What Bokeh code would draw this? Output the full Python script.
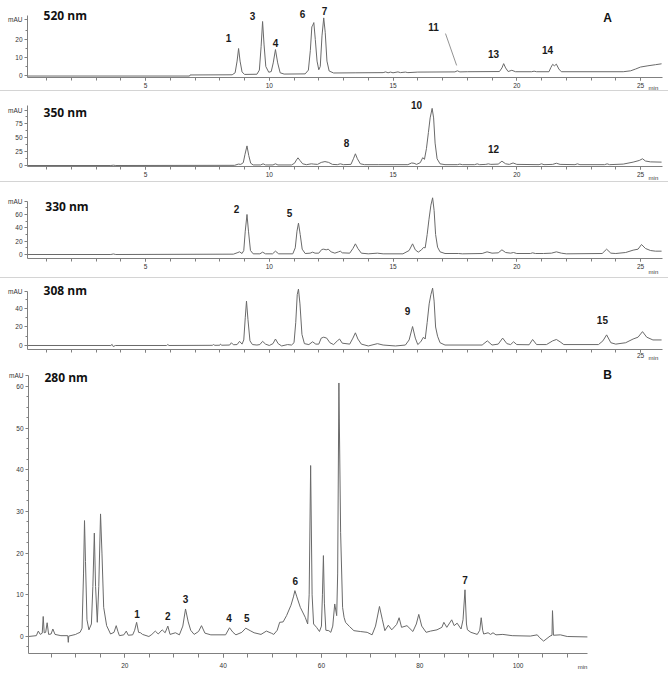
from bokeh.plotting import figure
from bokeh.layouts import column
from bokeh.models import Range1d, FixedTicker, Label, LabelSet, ColumnDataSource, Div
from bokeh.core.properties import value
from bokeh.embed import file_html
from bokeh.resources import INLINE

# ---------------- data (retention time in min, absorbance in mAU) ----------------
t520 = [0.23, 6.78, 6.8, 8.5, 8.62, 8.7, 8.76, 8.82, 8.9, 9.0, 9.5, 9.6, 9.67, 9.73, 9.79, 9.86, 9.98,
        10.08, 10.16, 10.25, 10.34, 10.44, 10.6, 11.45, 11.58, 11.66, 11.72, 11.76, 11.8, 11.86, 11.93,
        12.0, 12.06, 12.13, 12.2, 12.26, 12.33, 12.42, 12.6, 13.5, 14.6, 14.7, 14.8, 14.9, 15.0, 15.2,
        15.3, 15.5, 15.6, 16.0, 17.5, 17.6, 17.7, 18.0, 19.3, 19.4, 19.47, 19.55, 19.65, 19.8, 19.95,
        20.6, 20.7, 20.8, 21.3, 21.38, 21.45, 21.52, 21.6, 21.7, 21.8, 24.3, 24.6, 24.8, 25.0, 25.3,
        25.6, 25.85]
a520 = [-0.3, -0.3, 0.3, 0.4, 1.5, 8, 15, 8, 2, 0.6, 0.7, 3, 16, 30, 17, 5, 1.8,
        2.2, 7, 14.4, 7, 1.5, 0.8, 0.9, 3, 14, 27, 28, 29.4, 20, 8,
        3.2, 5, 22, 32, 24, 8, 2.5, 1.4, 1.5, 1.6, 2.0, 1.5, 1.9, 1.5, 2.0,
        1.6, 1.9, 1.6, 1.9, 2.0, 2.6, 2.0, 2.1, 2.2, 4.2, 6.6, 4.2, 2.2, 2.9, 2.1,
        2.1, 2.4, 2.1, 2.1, 4.5, 6.2, 5.4, 6.3, 3.6, 2.1, 2.1, 2.6, 3.6, 4.7, 5.4,
        6.0, 6.5]

t350 = [0.23, 3.6, 3.7, 3.8, 8.6, 8.75, 8.85, 8.95, 9.02, 9.1, 9.17, 9.25, 9.35, 9.65, 9.75, 9.85,
        10.15, 10.25, 10.35, 10.9, 11.02, 11.1, 11.16, 11.24, 11.35, 11.5, 11.7, 11.8, 11.95, 12.1,
        12.25, 12.4, 12.55, 12.75, 12.87, 13.0, 13.3, 13.4, 13.48, 13.56, 13.68, 13.85, 14.4, 15.6,
        15.75, 15.85, 15.95, 16.1, 16.2, 16.27, 16.35, 16.43, 16.5, 16.58, 16.64, 16.7, 16.78, 16.9,
        17.1, 17.6, 17.7, 17.8, 18.3, 18.4, 18.5, 18.75, 18.85, 18.95, 19.25, 19.4, 19.55, 19.7,
        19.85, 20.0, 20.9, 21.0, 21.1, 21.45, 21.6, 21.75, 22.35, 22.45, 22.55, 23.55, 23.65, 23.75,
        24.3, 24.7, 24.95, 25.08, 25.2, 25.4, 25.85]
a350 = [0, 0, 0.5, 0, 0.3, 2.5, 2, 5, 20, 35, 18, 4, 1, 1, 3, 1,
        1, 3, 1, 1, 4, 10, 13.7, 9, 3, 1.5, 3, 2.5, 2, 5.5,
        7, 5.5, 2, 1.5, 3, 1.5, 2, 12, 20.9, 12, 3, 1.5, 1.5, 1.5,
        4.5, 4, 2, 5, 14, 11, 30, 59, 85, 102, 85, 40, 12, 3,
        1.5, 1.5, 2.5, 1.5, 1.5, 3, 1.5, 2, 3, 2, 2.5, 7.7, 3, 2,
        4.5, 2, 1.5, 3, 1.5, 2, 4, 2, 1.5, 3, 1.5, 1.5, 3, 1.5,
        2.5, 6, 9, 12, 8, 6.5, 6]

t330 = [0.23, 3.6, 3.7, 3.8, 8.55, 8.7, 8.8, 8.9, 8.97, 9.03, 9.1, 9.16, 9.24, 9.35, 9.62, 9.73,
        9.85, 10.13, 10.25, 10.38, 10.95, 11.05, 11.12, 11.18, 11.25, 11.33, 11.45, 11.65, 11.75,
        11.85, 12.0, 12.12, 12.2, 12.3, 12.38, 12.5, 12.65, 12.8, 12.87, 12.95, 13.25, 13.38, 13.48,
        13.58, 13.72, 14.0, 14.37, 14.6, 15.4, 15.65, 15.79, 15.9, 16.02, 16.15, 16.23, 16.3, 16.38,
        16.45, 16.53, 16.6, 16.66, 16.72, 16.8, 16.9, 17.1, 17.65, 17.8, 18.6, 18.8, 19.0, 19.25,
        19.4, 19.55, 19.75, 19.87, 20.0, 20.55, 20.64, 20.75, 21.08, 21.4, 21.6, 21.8, 22.0, 23.45,
        23.63, 23.8, 24.0, 24.4, 24.7, 24.9, 25.04, 25.2, 25.4, 25.6, 25.85]
a330 = [0, 0, 0.8, 0, 0.5, 2.5, 4, 1.5, 6, 35, 60, 35, 6, 1, 1, 3.5,
        1, 1, 5, 1, 1, 10, 35, 47, 30, 8, 1.5, 2, 3.5,
        2, 2, 7.5, 8, 7, 8, 4, 2, 4, 5, 2.5, 2, 9, 16,
        9, 2, 1, 2, 1, 1, 6, 16, 7, 3.5, 7, 10.5, 10, 30,
        52, 74, 85, 66, 30, 11, 4, 1.5, 1.5, 1, 1.5, 4, 2, 2.5,
        7, 3, 2, 3, 1.5, 1.5, 2.5, 1.5, 1.5, 2, 4, 2, 1, 1.5,
        8, 2, 1.5, 3, 6.5, 8, 15, 9, 6, 5, 5]

t308 = [0.23, 3.6, 3.65, 3.7, 3.78, 5.85, 5.9, 5.95, 7.7, 7.75, 7.8, 8.0, 8.03, 8.08, 8.4, 8.47,
        8.55, 8.7, 8.8, 8.9, 8.97, 9.03, 9.08, 9.14, 9.22, 9.32, 9.5, 9.62, 9.73, 9.85, 10.0, 10.15,
        10.25, 10.36, 10.5, 10.74, 10.9, 11.0, 11.07, 11.13, 11.18, 11.24, 11.32, 11.42, 11.6, 11.75,
        11.88, 12.0, 12.1, 12.2, 12.32, 12.45, 12.6, 12.75, 12.84, 12.95, 13.25, 13.38, 13.48, 13.58,
        13.72, 14.0, 14.37, 14.6, 15.1, 15.5, 15.65, 15.79, 15.9, 16.0, 16.12, 16.23, 16.3, 16.38,
        16.46, 16.53, 16.6, 16.66, 16.72, 16.8, 16.9, 17.1, 18.6, 18.81, 19.0, 19.25, 19.43, 19.6,
        19.75, 19.87, 20.0, 20.5, 20.64, 20.8, 21.2, 21.45, 21.6, 21.75, 21.9, 23.3, 23.48, 23.63,
        23.8, 24.0, 24.4, 24.7, 24.9, 25.08, 25.25, 25.5, 25.85]
a308 = [0, 0, 1.2, -1.2, 0, 0, 1, 0, 0.2, 1, 0.2, 0.3, 1.5, 0.3, 0.5, 3,
        0.8, 1, 4.5, 1.5, 6, 30, 48, 28, 5, 1, 0.5, 1, 4.5, 1.5, 0, 2,
        7, 2, -0.5, 1, 0.5, 3, 25, 55, 61, 45, 12, 2, 1, 4,
        1.5, 1.5, 8, 9, 8, 3, 1, 5, 7, 2.5, 1.5, 8, 13.7, 7,
        1.5, -0.5, 2, 0.5, -0.5, 0.5, 6, 20.5, 8, 1, 4, 9, 7, 25,
        45, 55, 62, 48, 20, 10, 3, 0.5, 0.5, 5, 0.5, 1.5, 8, 2,
        1, 4, 1, 0.8, 6.5, 1, 1, 5, 6.5, 4, 1, 1, 5, 11.5,
        3, 1.5, 3, 7, 9, 15, 9, 6, 6]

t280 = [0.41, 2.0, 2.4, 2.8, 3.2, 3.4, 3.6, 3.9, 4.2, 4.5, 5.0, 5.36, 5.8, 7.0, 8.4, 8.5, 8.6,
        10.0, 10.3, 10.9, 11.3, 11.6, 11.8, 12.0, 12.3, 12.7, 13.2, 13.5, 13.8, 14.05, 14.4, 14.7,
        15.06, 15.35, 15.7, 16.3, 17.1, 17.8, 18.25, 18.6, 18.9, 19.8, 20.3, 20.7, 21.6, 22.0, 22.4,
        22.8, 23.2, 23.6, 24.9, 25.5, 26.2, 26.8, 27.6, 28.2, 28.75, 29.2, 30.3, 31.1, 31.8, 32.35,
        32.9, 33.4, 34.1, 35.0, 35.6, 36.3, 37.5, 40.5, 41.3, 42.0, 42.6, 43.8, 44.6, 45.5, 46.3,
        47.7, 48.8, 49.8, 50.3, 51.0, 51.5, 52.2, 52.9, 53.8, 54.3, 54.6, 55.0, 55.7, 56.7, 57.2,
        57.5, 57.8, 58.1, 58.4, 59.0, 59.6, 60.0, 60.2, 60.4, 60.6, 60.9, 61.5, 61.9, 62.3, 62.7,
        63.1, 63.3, 63.55, 63.9, 64.3, 64.6, 64.9, 65.7, 66.6, 67.9, 69.3, 70.3, 71.0, 71.8, 72.4,
        72.9, 73.6, 74.3, 75.3, 75.8, 76.3, 77.4, 78.6, 79.3, 79.8, 80.4, 81.3, 82.2, 83.5, 84.5,
        84.9, 85.5, 86.5, 87.0, 87.6, 88.4, 88.8, 89.2, 89.5, 89.7, 90.4, 91.7, 92.2, 92.5, 92.8,
        93.0, 93.9, 94.4, 94.9, 95.5, 96.9, 98.8, 102.5, 103.9, 104.4, 105.2, 106.5, 106.9, 107.0,
        107.2, 108.6, 110.0, 114.1]
a280 = [0, 0.2, 1.3, 0.5, 0.8, 4.8, 0.9, 1.0, 3.3, 0.5, 0.6, 1.8, 0.5, 0.2, 0.2, -1.4, 0.1,
        0.5, 0.7, 1.0, 2, 15, 27.8, 18, 4, 1.6, 3, 12, 24.8, 12, 3.4, 12,
        29.4, 20, 7, 2.6, 0.6, 1.0, 2.6, 1.2, 0.2, 0.4, 1.3, 0.3, 0.4, 1.5, 3.4,
        1.0, 0.9, 0.5, 0.0, 0.5, 1.3, 0.6, 1.6, 0.9, 2.5, 0.5, 0.9, 0.4, 2.5, 6.6,
        3.5, 1.5, 0.5, 1.2, 2.6, 0.8, 0.4, 0.4, 2.1, 1.0, 0.4, 1.0, 2.0, 1.4, 0.9,
        0.5, 1.3, 0.8, 0.5, 1.5, 3.4, 3.5, 5.0, 7.5, 9.5, 11.0, 9.5, 7.0, 4.6, 3.0,
        10, 41, 10, 3.0, 2.2, 1.2, 2.5, 10, 19.4, 8, 1.5, 1.4, 1.0, 2.5, 7.8,
        5, 15, 60.8, 25, 7, 4.6, 3.4, 2.4, 1.4, 1.2, 1.0, 0.4, 2.5, 7.2, 4.0,
        1.4, 2.7, 1.6, 2.9, 4.5, 2.2, 2.6, 1.2, 3.0, 5.3, 2.5, 1.0, 1.3, 1.6, 2.2,
        3.4, 2.2, 4.0, 2.6, 3.2, 1.8, 4, 11.2, 3, 1.6, 1.0, 0.5, 1.5, 4.5, 1.5,
        0.6, 0.9, 0.5, 0.9, 0.4, 0.5, 0.2, 0.1, 0.4, -0.3, -1.1, 0.1, 0.3, 6.2,
        0.3, 0.4, 0.0, -0.1]

# peak numbers (label text, time, label height in mAU)
pk520_txt = ["1", "3", "4", "6", "7", "11", "13", "14"]
pk520_t = [8.35, 9.32, 10.25, 11.34, 12.23, 16.64, 19.06, 21.24]
pk520_y = [21.1, 32.8, 18.3, 34.4, 35.6, 26.7, 12.2, 13.9]
lead11_t = [17.12, 17.57]
lead11_y = [23.3, 5.6]

pk350_txt = ["8", "10", "12"]
pk350_t = [13.12, 15.95, 19.06]
pk350_y = [39.3, 108.9, 28.6]

pk330_txt = ["2", "5"]
pk330_t = [8.68, 10.82]
pk330_y = [67.5, 61.5]

pk308_txt = ["9", "15"]
pk308_t = [15.59, 23.46]
pk308_y = [37.8, 28.1]

pk280_txt = ["1", "2", "3", "4", "5", "6", "7"]
pk280_t = [22.5, 28.75, 32.35, 41.2, 44.8, 54.7, 89.2]
pk280_y = [5.4, 5.0, 9.0, 4.4, 4.4, 13.2, 13.6]

xticks_A = [5, 10, 15, 20, 25]
xminor_A = list(range(1, 26))
xticks_B = [20, 40, 60, 80, 100]
xminor_B = list(range(5, 115, 5))

# ---------------- styling / layout ----------------
PAGE_W = 668
TRACE = "#6a6a6a"
AXIS = "#808080"
TXT = "#333333"
TICK_FONT = "Liberation Sans"
TICK_SIZE = "6.5px"

XR_A = (-0.859, 26.13)      # whole canvas width in minutes (panel A)
XAX_A = (0.232, 25.89)      # drawn extent of the time axis
XR_B = (-5.29, 130.6)
XAX_B = (0.41, 114.14)


def panel(height, xr, x_axis_ext, yr, x_axis_at, y_axis_top, yticks, yminor, mau_at,
          xticks, xminor, keep_labels=None, standoff=2, tick_out=3):
    p = figure(width=PAGE_W, height=height, x_range=Range1d(*xr), y_range=Range1d(*yr),
               output_backend="svg", toolbar_location=None, title=None,
               min_border=0, min_border_top=0, min_border_bottom=0,
               min_border_left=0, min_border_right=0)
    p.outline_line_color = None
    p.grid.visible = False
    for ax in (p.xaxis[0], p.yaxis[0]):
        ax.axis_line_color = AXIS
        ax.axis_line_width = 1
        ax.major_tick_line_color = AXIS
        ax.minor_tick_line_color = AXIS
        ax.major_tick_in = 0
        ax.minor_tick_in = 0
        ax.major_label_text_font = TICK_FONT
        ax.major_label_text_font_size = TICK_SIZE
        ax.major_label_text_color = TXT
    xa = p.xaxis[0]
    xa.fixed_location = x_axis_at
    xa.bounds = x_axis_ext
    xa.ticker = FixedTicker(ticks=xticks, minor_ticks=xminor)
    xa.major_tick_out = tick_out
    xa.minor_tick_out = tick_out
    xa.major_label_standoff = standoff
    if keep_labels is not None:
        xa.major_label_overrides = {t: (str(t) if t in keep_labels else "") for t in xticks}
    ya = p.yaxis[0]
    ya.fixed_location = x_axis_ext[0]
    ya.bounds = (x_axis_at, y_axis_top)
    ya.ticker = FixedTicker(ticks=yticks + [mau_at], minor_ticks=yminor)
    ya.major_label_overrides = {mau_at: "mAU"}
    ya.major_tick_out = 3
    ya.minor_tick_out = 2
    ya.major_label_standoff = 2
    return p


def trace(p, t, a):
    p.line(t, a, line_color=TRACE, line_width=1)


def peak_labels(p, txt, t, y):
    src = ColumnDataSource(dict(x=t, y=y, text=txt))
    p.add_layout(LabelSet(x="x", y="y", text="text", source=src, text_align="center",
                          text_baseline="middle", text_font=value(TICK_FONT),
                          text_font_style="bold", text_font_size="10px", text_color="#1a1a1a"))


def title(p, x, y, text):
    p.add_layout(Label(x=x, y=y, text=text, text_align="left", text_baseline="middle",
                       text_font="Open Sans", text_font_style="bold", text_font_size="12px",
                       text_color="#111111"))


def letter(p, x, y, text):
    p.add_layout(Label(x=x, y=y, text=text, text_align="center", text_baseline="middle",
                       text_font=TICK_FONT, text_font_style="bold", text_font_size="12px",
                       text_color="#111111"))


def min_label(p, x, y):
    p.add_layout(Label(x=x, y=y, text="min", text_align="center", text_baseline="middle",
                       text_font=TICK_FONT, text_font_size="6px", text_color=TXT))


# 520 nm : canvas rows 0..90, zero at row 75, 1.8 px per mAU
p1 = panel(90, XR_A, XAX_A, (-8.33, 41.67), -1.11, 33.3, [0, 10, 20], [5, 15, 25], 31,
           xticks_A, xminor_A, keep_labels=[5, 10, 15, 20, 25])
trace(p1, t520, a520)
p1.line(lead11_t, lead11_y, line_color="#777777", line_width=0.8)
peak_labels(p1, pk520_txt, pk520_t, pk520_y)
title(p1, 0.88, 33.3, "520 nm")
letter(p1, 23.67, 32.2, "A")
min_label(p1, 25.52, -6.8)

# 350 nm : rows 91..181, zero at 165, 0.56 px per mAU
p2 = panel(90, XR_A, XAX_A, (-28.57, 132.14), -1.79, 107.1, [0, 25, 50, 75],
           [12.5, 37.5, 62.5, 87.5], 98, xticks_A, xminor_A, keep_labels=[5, 10, 15, 20, 25])
trace(p2, t350, a350)
peak_labels(p2, pk350_txt, pk350_t, pk350_y)
title(p2, 0.88, 94.6, "350 nm")
min_label(p2, 25.52, -22.0)

# 330 nm : rows 182..277, zero at 254, 0.667 px per mAU
p3 = panel(95, XR_A, XAX_A, (-34.48, 107.95), -6.0, 79.5, [0, 20, 40, 60], [10, 30, 50, 70], 79,
           xticks_A, xminor_A, keep_labels=[5, 10, 15, 20, 25])
trace(p3, t330, a330)
peak_labels(p3, pk330_txt, pk330_t, pk330_y)
title(p3, 0.95, 72.0, "330 nm")
min_label(p3, 25.52, -25.5)

# 308 nm : rows 278..362, zero at 345, 0.925 px per mAU
p4 = panel(84, XR_A, XAX_A, (-18.38, 72.43), -4.32, 58.4, [0, 20, 40], [10, 30, 50], 58,
           xticks_A, xminor_A, keep_labels=[25], standoff=1)
trace(p4, t308, a308)
peak_labels(p4, pk308_txt, pk308_t, pk308_y)
title(p4, 0.88, 59.5, "308 nm")
min_label(p4, 25.52, -14.0)

# 280 nm (B) : rows 362..682, zero at 636, 4.17 px per mAU
p5 = panel(320, XR_B, XAX_B, (-11.03, 65.71), -4.08, 62.6,
           [0, 10, 20, 30, 40, 50, 60], [-2.5, 2.5, 5, 7.5, 12.5, 15, 17.5, 22.5, 25, 27.5,
                                         32.5, 35, 37.5, 42.5, 45, 47.5, 52.5, 55, 57.5],
           62.6, xticks_B, xminor_B, standoff=5, tick_out=4)
trace(p5, t280, a280)
peak_labels(p5, pk280_txt, pk280_t, pk280_y)
title(p5, 3.66, 62.1, "280 nm")
letter(p5, 118.2, 62.8, "B")
min_label(p5, 113.1, -7.2)


def sep():
    return Div(text="", width=PAGE_W, height=1, margin=(0, 0, 0, 0),
               styles={"background-color": "#d4d4d4"})


layout = column(p1, sep(), p2, sep(), p3, sep(), p4, p5, spacing=0)
open("out.html", "w").write(file_html(layout, INLINE))
